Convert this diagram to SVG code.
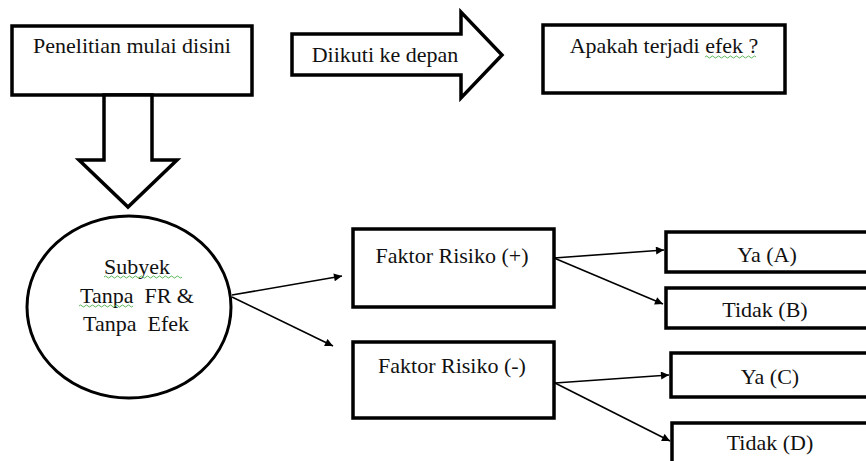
<svg xmlns="http://www.w3.org/2000/svg" width="866" height="461" viewBox="0 0 866 461">
<style>
.box{fill:#fff;stroke:#000;stroke-width:3.5}
.shape{fill:#fff;stroke:#000;stroke-width:3.5;stroke-linejoin:miter}
.t{font-size:22px;fill:#111;text-anchor:middle}
.conn{stroke:#000;stroke-width:1.6;fill:none}
.wavy{stroke:#5cb85c;stroke-width:1;fill:none}
</style>
<defs>
<marker id="ah" viewBox="0 0 10 10" refX="10" refY="5" markerWidth="10" markerHeight="8" markerUnits="userSpaceOnUse" orient="auto">
<path d="M0,0 L10,5 L0,10 z" fill="#000"/>
</marker>
</defs>
<rect width="866" height="461" fill="#fff"/>

<g id="node-penelitian">
<rect class="box" x="12" y="26" width="240" height="69"/>
<text class="t" x="132" y="53" font-family="Liberation Serif, serif">Penelitian mulai disini</text>
</g>

<g id="arrow-down">
<path class="shape" d="M104,95 L152,95 L152,160 L177,160 L128,207 L79,160 L104,160 Z"/>
</g>

<g id="arrow-right">
<path class="shape" d="M292,34 L461,34 L461,12 L502,55 L461,98 L461,75 L292,75 Z"/>
<text class="t" x="385" y="62" font-family="Liberation Serif, serif">Diikuti ke depan</text>
</g>

<g id="node-efek">
<rect class="box" x="543" y="25" width="242" height="68"/>
<text class="t" x="664" y="53" font-family="Liberation Serif, serif">Apakah terjadi efek ?</text>
<path class="wavy" d="M705,57 q1.5,-2 3,0 t3,0 t3,0 t3,0 t3,0 t3,0 t3,0 t3,0 t3,0 t3,0 t3,0 t3,0 t3,0 t3,0 t3,0 t3,0 t3,0"/>
</g>

<g id="node-subyek">
<ellipse cx="129" cy="307" rx="102" ry="91" fill="#fff" stroke="#000" stroke-width="3"/>
<text class="t" x="137" y="274" font-family="Liberation Serif, serif">Subyek</text>
<text class="t" x="137" y="303" xml:space="preserve" font-family="Liberation Serif, serif">Tanpa  FR &amp;</text>
<text class="t" x="136" y="331" xml:space="preserve" font-family="Liberation Serif, serif">Tanpa  Efek</text>
<path class="wavy" d="M104,277 q1.5,-2 3,0 t3,0 t3,0 t3,0 t3,0 t3,0 t3,0 t3,0 t3,0 t3,0 t3,0 t3,0 t3,0 t3,0 t3,0 t3,0 t3,0 t3,0 t3,0 t3,0 t3,0 t3,0 t3,0 t3,0 t3,0 t3,0"/>
<path class="wavy" d="M79,306 q1.5,-2 3,0 t3,0 t3,0 t3,0 t3,0 t3,0 t3,0 t3,0 t3,0 t3,0 t3,0 t3,0 t3,0 t3,0 t3,0 t3,0 t3,0 t3,0"/>
</g>

<g id="node-fr-plus">
<rect class="box" x="353" y="229" width="201" height="78"/>
<text class="t" x="452" y="263" font-family="Liberation Serif, serif">Faktor Risiko (+)</text>
</g>

<g id="node-fr-minus">
<rect class="box" x="353" y="342" width="201" height="76"/>
<text class="t" x="452" y="373" font-family="Liberation Serif, serif">Faktor Risiko (-)</text>
</g>

<g id="node-ya-a">
<rect class="box" x="666" y="232" width="210" height="40" stroke-width="4"/>
<text class="t" x="767" y="262" font-family="Liberation Serif, serif">Ya (A)</text>
</g>

<g id="node-tidak-b">
<rect class="box" x="666" y="288" width="210" height="40" stroke-width="4"/>
<text class="t" x="765" y="317" font-family="Liberation Serif, serif">Tidak (B)</text>
</g>

<g id="node-ya-c">
<rect class="box" x="671" y="353" width="205" height="44" stroke-width="4"/>
<text class="t" x="770" y="384" font-family="Liberation Serif, serif">Ya (C)</text>
</g>

<g id="node-tidak-d">
<rect class="box" x="672" y="423" width="204" height="50" stroke-width="4"/>
<text class="t" x="770" y="450" font-family="Liberation Serif, serif">Tidak (D)</text>
</g>

<g id="connectors">
<line class="conn" x1="232" y1="295" x2="342" y2="276" marker-end="url(#ah)"/>
<line class="conn" x1="232" y1="297" x2="333" y2="346" marker-end="url(#ah)"/>
<line class="conn" x1="554" y1="258" x2="664" y2="250" marker-end="url(#ah)"/>
<line class="conn" x1="554" y1="258" x2="663" y2="304" marker-end="url(#ah)"/>
<line class="conn" x1="555" y1="383" x2="669" y2="375" marker-end="url(#ah)"/>
<line class="conn" x1="555" y1="383" x2="670" y2="441" marker-end="url(#ah)"/>
</g>
</svg>
